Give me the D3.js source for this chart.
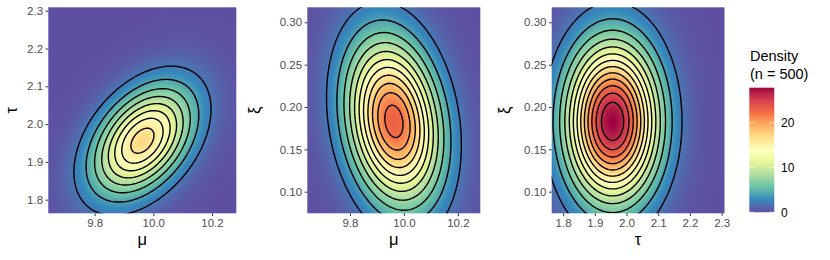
<!DOCTYPE html>
<html>
<head>
<meta charset="utf-8">
<script src="https://cdn.jsdelivr.net/npm/d3@7"></script>
<style>
  body { margin: 0; background: #fff; }
  svg text { font-family: "Liberation Sans", Arial, sans-serif; }
</style>
</head>
<body>
<svg id="chart"></svg>
<script>
// posterior draws summarised per parameter
const paramLabels = ["μ", "τ", "ξ"];
const paramMeans = [9.963, 1.956, 0.183];
const paramDomains = [[9.642, 10.283], [1.764, 2.309], [0.0745, 0.3177]];
const paramTicks = [[9.8, 10.0, 10.2], [1.8, 1.9, 2.0, 2.1, 2.2, 2.3], [0.10, 0.15, 0.20, 0.25, 0.30]];
const paramFormats = [".1f", ".1f", ".2f"];

// the three panels: [x parameter, y parameter]
const panelPairs = [[0, 1], [0, 2], [1, 2]];
const panelSds = [[0.113, 0.0954], [0.113, 0.064], [0.0954, 0.0615]];
const panelCorr = [0.42, -0.2, 0];
const panelPeaks = [17.0, 23.0, 27.8];
const panelLevels = [
  [2, 4, 6, 8, 10, 12, 14, 16],
  [2, 4, 6, 8, 10, 12, 14, 16, 18, 20, 22],
  [2, 4, 6, 8, 10, 12, 14, 16, 18, 20, 22, 24, 26]
];

const legendTicks = [0, 10, 20];
const spectral = ["#5E4FA2", "#3288BD", "#66C2A5", "#ABDDA4", "#E6F598", "#FFFFBF",
                  "#FEE08B", "#FDAE61", "#F46D43", "#D53E4F", "#9E0142"];

// layout
const width = 830, height = 260;
const plotTop = 7.3, plotBottom = 213.3;
const panelX = [[48.3, 236.3], [307.3, 480.3], [551.7, 724.5]];
const yTitleX = [12, 255, 505];

const svg = d3.select("#chart").attr("width", width).attr("height", height);
const defs = svg.append("defs");

const maxDensity = d3.max(panelPeaks);
const color = d3.scaleLinear()
  .domain(spectral.map((c, i) => i / (spectral.length - 1) * maxDensity))
  .range(spectral)
  .interpolate(d3.interpolateLab)
  .clamp(true);

function densityFn(p) {
  const [ix, iy] = panelPairs[p];
  const mx = paramMeans[ix], my = paramMeans[iy];
  const [sx, sy] = panelSds[p];
  const r = panelCorr[p], peak = panelPeaks[p];
  return (x, y) => {
    const u = (x - mx) / sx, v = (y - my) / sy;
    const q = (u * u - 2 * r * u * v + v * v) / (1 - r * r);
    return peak * Math.exp(-q / 2);
  };
}

panelPairs.forEach(([ix, iy], p) => {
  const [left, right] = panelX[p];
  const x = d3.scaleLinear().domain(paramDomains[ix]).range([left, right]);
  const y = d3.scaleLinear().domain(paramDomains[iy]).range([plotBottom, plotTop]);
  const f = densityFn(p);
  const g = svg.append("g");

  // raster fill
  const cw = Math.round(right - left), ch = Math.round(plotBottom - plotTop);
  const canvas = document.createElement("canvas");
  canvas.width = cw; canvas.height = ch;
  const ctx = canvas.getContext("2d");
  const img = ctx.createImageData(cw, ch);
  for (let j = 0; j < ch; j++) {
    const yv = y.invert(plotTop + (j + 0.5) * (plotBottom - plotTop) / ch);
    for (let i = 0; i < cw; i++) {
      const xv = x.invert(left + (i + 0.5) * (right - left) / cw);
      const c = d3.rgb(color(f(xv, yv)));
      const k = (j * cw + i) * 4;
      img.data[k] = c.r; img.data[k + 1] = c.g; img.data[k + 2] = c.b; img.data[k + 3] = 255;
    }
  }
  ctx.putImageData(img, 0, 0);
  g.append("image")
    .attr("x", left).attr("y", plotTop)
    .attr("width", right - left).attr("height", plotBottom - plotTop)
    .attr("preserveAspectRatio", "none")
    .attr("href", canvas.toDataURL());

  // contours on a grid larger than the panel, clipped to it
  const clipId = "clip" + p;
  defs.append("clipPath").attr("id", clipId)
    .append("rect").attr("x", left).attr("y", plotTop)
    .attr("width", right - left).attr("height", plotBottom - plotTop);

  const [x0, x1] = paramDomains[ix], [y0, y1] = paramDomains[iy];
  const gx0 = x0 - (x1 - x0) * 0.6, gx1 = x1 + (x1 - x0) * 0.6;
  const gy0 = y0 - (y1 - y0) * 0.6, gy1 = y1 + (y1 - y0) * 0.6;
  const n = 300, m = 300;
  const dx = (gx1 - gx0) / (n - 1), dy = (gy1 - gy0) / (m - 1);
  const values = new Float64Array(n * m);
  for (let j = 0; j < m; j++)
    for (let i = 0; i < n; i++)
      values[j * n + i] = f(gx0 + i * dx, gy0 + j * dy);

  const contours = d3.contours().size([n, m]).thresholds(panelLevels[p])(values);
  const proj = d3.geoTransform({
    point(px, py) {
      this.stream.point(x(gx0 + (px - 0.5) * dx), y(gy0 + (py - 0.5) * dy));
    }
  });
  const path = d3.geoPath(proj);
  g.append("g").attr("clip-path", `url(#${clipId})`)
    .selectAll("path").data(contours).join("path")
    .attr("d", path)
    .attr("fill", "none")
    .attr("stroke", "#000")
    .attr("stroke-width", 1.4)
    .attr("stroke-linejoin", "round");

  // axes
  const xAxis = g.append("g").attr("transform", `translate(0,${plotBottom})`)
    .call(d3.axisBottom(x).tickValues(paramTicks[ix]).tickFormat(d3.format(paramFormats[ix]))
      .tickSize(2.75).tickPadding(2.5));
  const yAxis = g.append("g").attr("transform", `translate(${left},0)`)
    .call(d3.axisLeft(y).tickValues(paramTicks[iy]).tickFormat(d3.format(paramFormats[iy]))
      .tickSize(2.75).tickPadding(2.5));
  [xAxis, yAxis].forEach(a => {
    a.select(".domain").remove();
    a.selectAll(".tick line").attr("stroke", "#333333").attr("stroke-width", 1);
    a.selectAll(".tick text").attr("fill", "#4d4d4d").style("font-size", "11.5px");
  });

  g.append("text")
    .attr("x", (left + right) / 2).attr("y", 245)
    .attr("text-anchor", "middle")
    .style("font-size", "16.5px")
    .text(paramLabels[ix]);
  g.append("text")
    .attr("transform", `translate(${yTitleX[p] + 5},${(plotTop + plotBottom) / 2}) rotate(-90)`)
    .attr("text-anchor", "middle")
    .style("font-size", "16.5px")
    .text(paramLabels[iy]);
});

// legend
const barX = 749.3, barW = 25, barTop = 87.7, barBottom = 212.3;
const ly = d3.scaleLinear().domain([0, maxDensity]).range([barBottom, barTop]);
const grad = defs.append("linearGradient").attr("id", "barGrad")
  .attr("x1", 0).attr("y1", 1).attr("x2", 0).attr("y2", 0);
d3.range(0, 41).forEach(i => {
  grad.append("stop").attr("offset", i / 40).attr("stop-color", color(i / 40 * maxDensity));
});
const legend = svg.append("g");
legend.append("text").attr("x", 750).attr("y", 61).style("font-size", "14.5px").text("Density");
legend.append("text").attr("x", 750).attr("y", 78.5).style("font-size", "14.5px").text("(n = 500)");
legend.append("rect")
  .attr("x", barX).attr("y", barTop).attr("width", barW).attr("height", barBottom - barTop)
  .attr("fill", "url(#barGrad)");
legendTicks.forEach(t => {
  [[barX, barX + 5], [barX + barW - 5, barX + barW]].forEach(([a, b]) => {
    legend.append("line")
      .attr("x1", a).attr("x2", b).attr("y1", ly(t)).attr("y2", ly(t))
      .attr("stroke", "#fff").attr("stroke-opacity", 0.8).attr("stroke-width", 0.8);
  });
  legend.append("text")
    .attr("x", 781).attr("y", ly(t)).attr("dy", "0.36em")
    .attr("fill", "#000")
    .style("font-size", "12px")
    .text(t);
});
</script>
</body>
</html>
